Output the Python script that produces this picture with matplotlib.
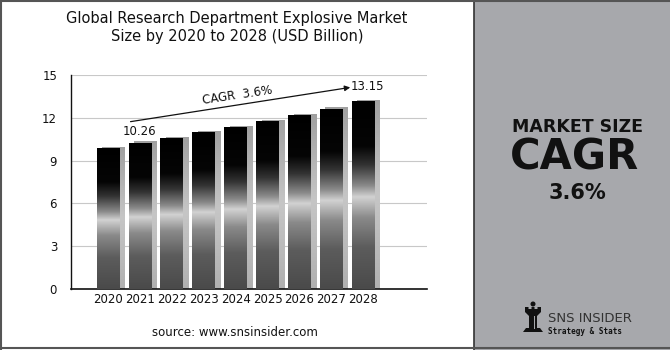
import matplotlib.pyplot as plt
import numpy as np
from matplotlib.colors import LinearSegmentedColormap
from matplotlib.patches import Rectangle, Polygon

years = ["2020", "2021", "2022", "2023", "2024", "2025", "2026", "2027", "2028"]
values = [9.85, 10.26, 10.6, 11.0, 11.38, 11.8, 12.22, 12.65, 13.15]
y_ticks = [0, 3, 6, 9, 12, 15]
cagr_text = "CAGR  3.6%"
first_label = "10.26"
last_label = "13.15"

# vertical gradient of a bar, from bottom (0) to top (1)
bar_cmap = LinearSegmentedColormap.from_list(
    "bar",
    [
        (0.0, "#4a4a4a"),
        (0.22, "#5c5c5c"),
        (0.38, "#8a8a8a"),
        (0.49, "#d2d2d2"),
        (0.55, "#8a8a8a"),
        (0.66, "#333333"),
        (0.76, "#050505"),
        (1.0, "#000000"),
    ],
)
shadow_cmap = LinearSegmentedColormap.from_list(
    "shadow", [(0.0, "#b0b0b0"), (0.5, "#c6c6c6"), (1.0, "#a0a0a0")]
)

fig = plt.figure(figsize=(6.7, 3.5), dpi=100)
fig.patch.set_facecolor("white")

# right grey panel (drawn below the logo axes)
fig.patches.append(
    Rectangle((474 / 670, 0), 1 - 474 / 670, 1, transform=fig.transFigure,
              facecolor="#a7a8ac", edgecolor="none", zorder=-1)
)
fig.add_artist(plt.Line2D([474 / 670, 474 / 670], [0, 1], color="#333333", lw=1.2))
# outer border
fig.add_artist(plt.Line2D([0, 1], [0.998, 0.998], color="#555555", lw=1.5))
fig.add_artist(plt.Line2D([0, 1], [0.006, 0.006], color="#555555", lw=1.5))
fig.add_artist(plt.Line2D([0.001, 0.001], [0, 1], color="#555555", lw=1.5))

ax = fig.add_axes([71 / 670, 1 - 289 / 350, (427 - 71) / 670, (289 - 75) / 350])

grad = np.linspace(0, 1, 256).reshape(-1, 1)
width = 0.71
for i, v in enumerate(values):
    # shadow behind the bar
    sx0 = i - width / 2 + 0.17
    sh = Rectangle((sx0, 0), width, v + 0.08, facecolor="none", edgecolor="none")
    ax.add_patch(sh)
    im = ax.imshow(grad, cmap=shadow_cmap, origin="lower", aspect="auto",
                   extent=(sx0, sx0 + width, 0, v + 0.08), zorder=2)
    im.set_clip_path(sh)
    # the bar itself
    x0 = i - width / 2
    rect = Rectangle((x0, 0), width, v, facecolor="none", edgecolor="none")
    ax.add_patch(rect)
    im = ax.imshow(grad, cmap=bar_cmap, origin="lower", aspect="auto",
                   extent=(x0, x0 + width, 0, v), zorder=3)
    im.set_clip_path(rect)

ax.set_xlim(-1.16, 10.0)
ax.set_ylim(0, 15)
ax.set_xticks(range(len(years)))
ax.set_xticklabels(years, fontsize=8.5, color="#111111")
ax.set_yticks(y_ticks)
ax.set_yticklabels([str(t) for t in y_ticks], fontsize=8.5, color="#111111")
ax.tick_params(length=0)
ax.tick_params(axis="x", pad=3)
ax.tick_params(axis="y", pad=10)
ax.yaxis.grid(True, color="#c8c8c8", lw=0.8)
ax.set_axisbelow(True)
for s in ["top", "right"]:
    ax.spines[s].set_visible(False)
ax.spines["left"].set_color("#111111")
ax.spines["bottom"].set_color("#111111")
ax.spines["left"].set_linewidth(1.0)
ax.spines["bottom"].set_linewidth(1.2)

ax.text(1, values[1] + 0.3, first_label, ha="center", va="bottom", fontsize=8.5, color="#111111")
ax.annotate("", xy=(7.68, 14.16), xytext=(0.62, 11.7),
            arrowprops=dict(arrowstyle="-|>", color="#111111", lw=0.9, mutation_scale=8))
ax.text(7.6, 14.2, last_label, ha="left", va="center", fontsize=8.5, color="#111111")
ax.text(4.05, 13.55, cagr_text, ha="center", va="center", fontsize=8.5,
        color="#111111", rotation=8.5)

fig.text(237 / 670, 1 - 27 / 350,
         "Global Research Department Explosive Market\nSize by 2020 to 2028 (USD Billion)",
         ha="center", va="center", fontsize=10.5, color="#111111", linespacing=1.25)
fig.text(235 / 670, 1 - 332 / 350, "source: www.snsinsider.com",
         ha="center", va="center", fontsize=8.5, color="#111111")

# right panel text
fig.text(577 / 670, 1 - 127 / 350, "MARKET SIZE", ha="center", va="center",
         fontsize=12.5, fontweight="bold", color="#111111")
fig.text(575 / 670, 1 - 158 / 350, "CAGR", ha="center", va="center",
         fontsize=30, fontweight="bold", color="#111111")
fig.text(577 / 670, 1 - 193 / 350, "3.6%", ha="center", va="center",
         fontsize=15, fontweight="bold", color="#111111")

# logo
lax = fig.add_axes([521 / 670, 1 - 334 / 350, 24 / 670, 36 / 350])
lax.set_xlim(0, 24)
lax.set_ylim(0, 36)
lax.axis("off")
lax.add_patch(Polygon([(2, 2), (22, 2), (19, 6), (16, 6), (16, 18), (20, 22), (20, 27),
                       (16.5, 27), (16.5, 25), (13.5, 25), (13.5, 27), (10.5, 27),
                       (10.5, 25), (7.5, 25), (7.5, 27), (4, 27), (4, 22), (8, 18),
                       (8, 6), (5, 6)],
                      closed=True, facecolor="#111111", edgecolor="none"))
lax.add_patch(plt.Circle((12, 30), 1.8, color="#111111"))
lax.add_patch(Rectangle((12.5, 5), 1.4, 13, facecolor="#a7a8ac", edgecolor="none"))
fig.text(548 / 670, 1 - 319 / 350, "SNS INSIDER", ha="left", va="center",
         fontsize=9.5, color="#333333")
fig.text(548 / 670, 1 - 331 / 350, "Strategy & Stats", ha="left", va="center",
         fontsize=5.5, fontweight="bold", color="#111111", family="DejaVu Sans Mono")

fig.savefig("out.png", dpi=100)
